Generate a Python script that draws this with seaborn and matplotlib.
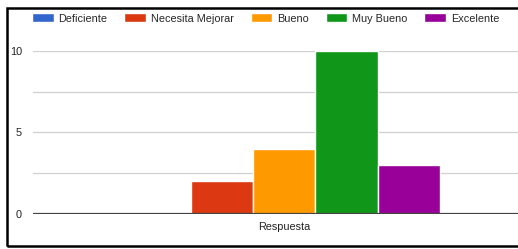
import pandas as pd
import matplotlib
matplotlib.use("Agg")
import matplotlib.pyplot as plt
import seaborn as sns
from matplotlib.patches import Rectangle

# data
categories = ["Respuesta"]
series = ["Deficiente", "Necesita Mejorar", "Bueno", "Muy Bueno", "Excelente"]
values = [0, 2, 4, 10, 3]
colors = ["#3366CC", "#DC3912", "#FF9900", "#109618", "#990099"]

df = pd.DataFrame({
    "categoria": categories * len(series),
    "serie": series,
    "valor": values,
})

sns.set_style("white")
plt.rcParams["font.family"] = ["Liberation Sans", "DejaVu Sans"]

fig = plt.figure(figsize=(5.18, 2.49), dpi=100)
ax = fig.add_axes([33 / 518, (249 - 214) / 249, 1 - 33 / 518, (214 - 51) / 249])

sns.barplot(data=df, x="categoria", y="valor", hue="serie", hue_order=series,
            palette=colors, width=0.8, saturation=1, ax=ax, legend=True)

ax.set_ylim(0, 10)
ax.set_xlim(-0.644, 0.6)
ax.set_yticks([0, 5, 10])
ax.set_yticks([2.5, 7.5], minor=True)
ax.grid(axis="y", which="both", color="#d0d0d0", linewidth=0.9)
ax.set_axisbelow(True)
ax.axhline(0, color="#444444", linewidth=1.6, zorder=5)
for s in ax.spines.values():
    s.set_visible(False)
ax.tick_params(axis="both", length=0, labelsize=7.8, colors="#222222")
ax.tick_params(axis="y", pad=8)
ax.tick_params(axis="x", pad=6)
ax.set_xlabel("")
ax.set_ylabel("")

handles, labels = ax.get_legend_handles_labels()
ax.legend(handles, labels, loc="center left", bbox_to_anchor=(-0.011, 1.2),
          ncol=5, frameon=False, fontsize=7.8, handlelength=2.0, handleheight=0.9,
          columnspacing=1.55, handletextpad=0.45, borderaxespad=0)

# frame around the picture
fig.patches.append(Rectangle((7 / 518, 3 / 249), 1 - 7 / 518 + 0.01, (246 - 8) / 249,
                             transform=fig.transFigure, fill=False,
                             edgecolor="black", linewidth=1.8))

fig.savefig("out.png", dpi=100)
